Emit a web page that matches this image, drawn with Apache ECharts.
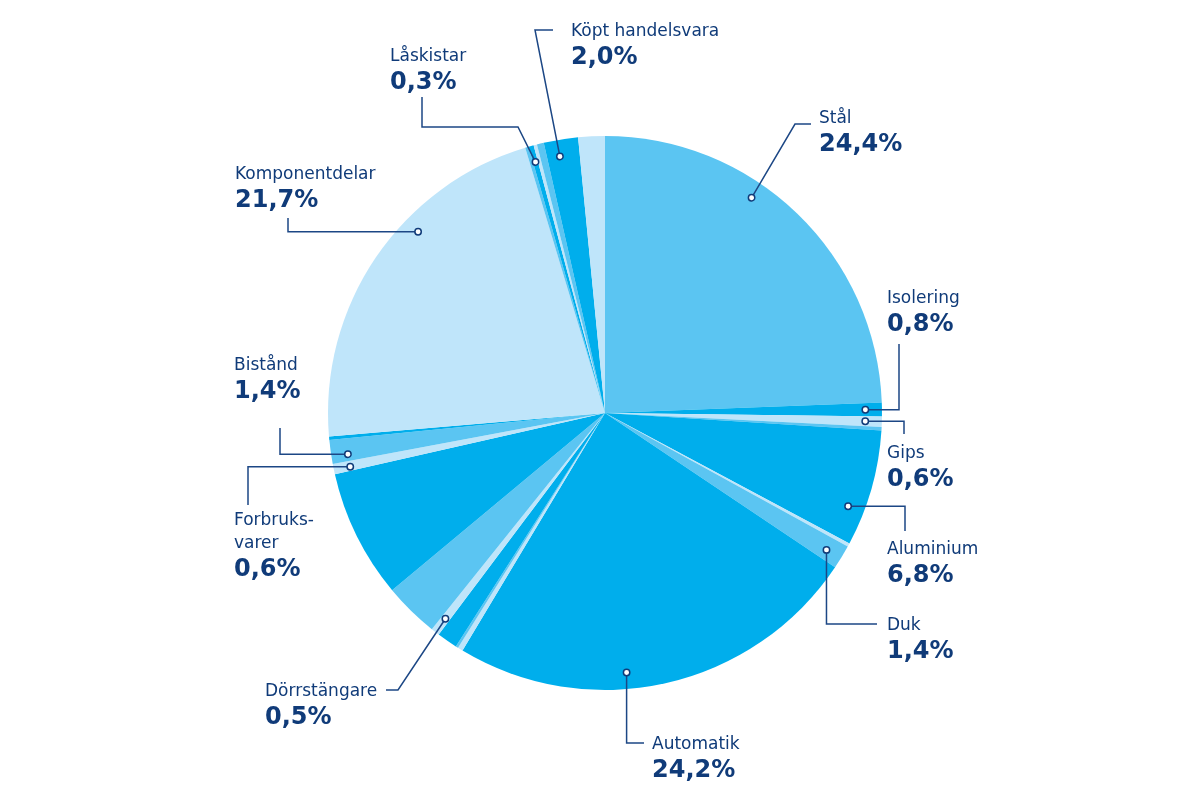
<!DOCTYPE html>
<html lang="sv">
<head>
    <meta charset="UTF-8">
    <title>Inköp per materialgrupp</title>
    <script src="https://cdn.jsdelivr.net/npm/echarts@6/dist/echarts.min.js"></script>
    <style>
        html, body { margin: 0; background: #fff; }
        #chart { width: 1200px; height: 800px; }
    </style>
</head>
<body>
<div id="chart"></div>
<script>
    // slices clockwise from 12 o'clock, empty name = unlabeled slice
    const categories = ['Stål', 'Isolering', 'Gips', '', 'Aluminium', '', 'Duk', 'Automatik',
        '', '', '', 'Dörrstängare', '', '', 'Forbruks-\nvarer', 'Bistånd', '', 'Komponentdelar',
        '', 'Låskistar', '', '', 'Köpt handelsvara', ''];
    const shares = [24.4, 0.8, 0.6, 0.2, 6.8, 0.2, 1.4, 24.2,
        0.3, 0.15, 1.2, 0.5, 3.2, 7.5, 0.6, 1.4, 0.2, 21.7,
        0.2, 0.3, 0.2, 0.4, 2.0, 1.55];

    const CX = 605, CY = 413, R = 277, RF = 0.94;
    const palette = ['#5bc5f2', '#00aeec', '#bfe5fa'];
    const navy = '#103b79';
    const lineColor = '#1c4785';

    // label boxes (top-left) and leader-line routes, by data index
    // t = where along the slice the dot sits
    const labelSpots = {
        0:  { x: 819, y: 107, t: 0.39, via: [[795, 124], [811, 124]] },
        1:  { x: 887, y: 287, t: 0.5,  hv: [899, 344] },
        2:  { x: 887, y: 442, t: 0.5,  hv: [904, 434] },
        4:  { x: 887, y: 538, t: 0.71, hv: [905, 531] },
        6:  { x: 887, y: 614, t: 0.58, vh: [624, 877] },
        7:  { x: 652, y: 733, t: 0.59, vh: [743, 644] },
        11: { x: 265, y: 680, t: 0.5,  via: [[398, 690], [386, 690]] },
        14: { x: 234, y: 509, t: 0.4,  hv: [248, 505] },
        15: { x: 234, y: 354, t: 0.3,  hv: [280, 428] },
        17: { x: 235, y: 163, t: 0.627, hv: [288, 218] },
        19: { x: 390, y: 45,  t: 0.5,  via: [[518, 127], [422, 127], [422, 97]] },
        22: { x: 571, y: 20,  t: 0.39, via: [[535, 30], [553, 30]] }
    };

    const total = shares.reduce((a, b) => a + b, 0);
    const startDeg = [];
    let acc = 0;
    shares.forEach(v => { startDeg.push(acc / total * 360); acc += v; });

    function anchorOf(i, t) {
        const a = (startDeg[i] + t * shares[i] / total * 360) * Math.PI / 180;
        return [CX + R * RF * Math.sin(a), CY - R * RF * Math.cos(a)];
    }

    function routeOf(i) {
        const s = labelSpots[i];
        const p = anchorOf(i, s.t);
        if (s.hv) return [p, [s.hv[0], p[1]], [s.hv[0], s.hv[1]]];
        if (s.vh) return [p, [p[0], s.vh[0]], [s.vh[1], s.vh[0]]];
        return [p].concat(s.via);
    }

    const pieData = shares.map((v, i) => {
        const item = { name: categories[i] || ('del' + i), value: v };
        if (!labelSpots[i]) item.label = { show: false };
        return item;
    });

    // leader lines + dots drawn on top of the slices
    const guides = [];
    Object.keys(labelSpots).forEach(k => {
        const pts = routeOf(+k);
        guides.push({
            type: 'polyline',
            z: 90,
            shape: { points: pts },
            style: { fill: null, stroke: lineColor, lineWidth: 1.5 }
        });
        guides.push({
            type: 'circle',
            z: 100,
            shape: { cx: pts[0][0], cy: pts[0][1], r: 3.2 },
            style: { fill: '#fff', stroke: navy, lineWidth: 1.5 }
        });
    });

    const chart = echarts.init(document.getElementById('chart'));
    chart.setOption({
        animation: false,
        color: palette,
        graphic: guides,
        series: [{
            type: 'pie',
            center: [CX, CY],
            radius: R,
            startAngle: 90,
            clockwise: true,
            avoidLabelOverlap: false,
            silent: true,
            itemStyle: { borderWidth: 0 },
            data: pieData,
            label: {
                show: true,
                formatter: function (p) {
                    const pct = p.value.toFixed(1).replace('.', ',') + '%';
                    return '{n|' + categories[p.dataIndex] + '}\n{v|' + pct + '}';
                },
                rich: {
                    n: { fontFamily: 'DejaVu Sans', fontSize: 17, color: navy, lineHeight: 23 },
                    v: { fontFamily: 'DejaVu Sans', fontSize: 24, fontWeight: 'bold', color: navy, lineHeight: 29 }
                }
            },
            labelLine: { show: false },
            labelLayout: function (params) {
                const s = labelSpots[params.dataIndex];
                if (!s) return {};
                return { x: s.x, y: s.y, align: 'left', verticalAlign: 'top' };
            }
        }]
    });
</script>
</body>
</html>
